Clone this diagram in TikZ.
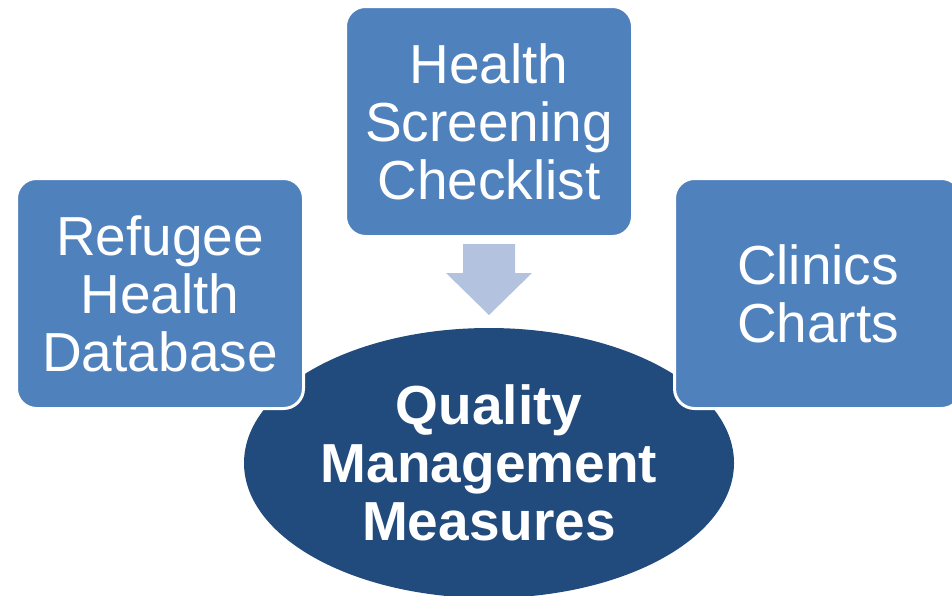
\documentclass[tikz,border=0pt]{standalone}
\usepackage{fontspec}
\setmainfont{Liberation Sans}
\usetikzlibrary{shapes.geometric}
\definecolor{boxblue}{HTML}{4F81BD}
\definecolor{goalblue}{HTML}{214A7D}
\definecolor{arrowblue}{HTML}{B3C2DE}
\begin{document}
\begin{tikzpicture}[x=1pt, y=-1pt,
  source/.style={draw=white, line width=3pt, fill=boxblue, rounded corners=20pt,
    text=white, minimum width=287pt, minimum height=230pt, align=center,
    inner sep=0pt, font=\fontsize{55}{58}\selectfont},
  goal/.style={ellipse, fill=goalblue, text=white, minimum width=490pt,
    minimum height=270pt, align=center, inner sep=0pt,
    font=\fontsize{55}{58}\selectfont\bfseries},
  blockarrow/.style={fill=arrowblue}]
\useasboundingbox (0,0) rectangle (952,595);
\clip (0,0) rectangle (952,595);
\node (qm) [goal] at (489,463) {Quality\\Management\\Measures};
\node (db) [source] at (160,293.5) {Refugee\\Health\\Database};
\node (hs) [source] at (489,121.5) {Health\\Screening\\Checklist};
\node (cc) [source] at (818,293.5) {Clinics\\Charts};
% block arrow from the checklist down to the measures
\begin{scope}[shift={(hs.south)}]
\fill[blockarrow] (-26,6) -- (26,6) -- (26,35) -- (43,35) -- (0,77)
  -- (-43,35) -- (-26,35) -- cycle;
\end{scope}
\end{tikzpicture}
\end{document}
